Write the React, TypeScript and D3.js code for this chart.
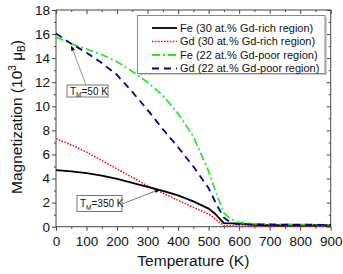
import { useRef, useEffect } from 'react'
import * as d3 from 'd3'

// temperature (K) grid and magnetization values (10^3 muB)
const feRichT = [0, 50, 100, 150, 200, 250, 300, 350, 400, 450, 500, 520, 550, 600, 650, 700, 900]
const feRichM = [4.7, 4.6, 4.45, 4.25, 3.97, 3.65, 3.3, 2.97, 2.6, 2.1, 1.5, 1.1, 0.3, 0.25, 0.15, 0.12, 0.12]
const gdRichT = [0, 50, 100, 150, 200, 250, 300, 350, 400, 450, 500, 550, 600, 900]
const gdRichM = [7.3, 6.8, 6.2, 5.5, 4.8, 4.1, 3.4, 2.8, 2.2, 1.6, 1.05, 0.1, 0.05, 0.05]
const fePoorT = [0, 50, 100, 150, 200, 250, 300, 350, 400, 450, 500, 525, 550, 575, 600, 650, 700, 900]
const fePoorM = [15.75, 15.2, 14.75, 14.3, 13.7, 12.9, 12.0, 10.9, 9.4, 7.5, 4.6, 2.8, 1.15, 0.6, 0.35, 0.25, 0.2, 0.15]
const gdPoorT = [0, 50, 100, 150, 200, 250, 300, 350, 400, 450, 500, 525, 550, 575, 600, 900]
const gdPoorM = [16.05, 15.2, 14.45, 13.6, 12.6, 11.2, 9.7, 8.1, 6.6, 5.0, 3.2, 1.9, 0.75, 0.3, 0.2, 0.15]

const seriesNames = ['Fe (30 at.% Gd-rich region)', 'Gd (30 at.% Gd-rich region)', 'Fe (22 at.% Gd-poor region)', 'Gd (22 at.% Gd-poor region)']
const xTicks = [0, 100, 200, 300, 400, 500, 600, 700, 800, 900]
const yTicks = [0, 2, 4, 6, 8, 10, 12, 14, 16, 18]

export default function App() {
  const svgRef = useRef<SVGSVGElement>(null)

  useEffect(() => {
    const W = 343, H = 274
    const m = { l: 56, r: 12.3, t: 10, b: 47.3 }
    const svg = d3.select(svgRef.current).attr('width', W).attr('height', H)
    svg.selectAll('*').remove()
    const font = 'Liberation Sans, Arial, sans-serif'

    const x = d3.scaleLinear().domain([0, 900]).range([m.l, W - m.r])
    const y = d3.scaleLinear().domain([0, 18]).range([H - m.b, m.t])

    // frame
    svg.append('rect')
      .attr('x', x(0)).attr('y', y(18))
      .attr('width', x(900) - x(0)).attr('height', y(0) - y(18))
      .attr('fill', 'none').attr('stroke', '#444').attr('stroke-width', 1)

    // axes
    const bottom = svg.append('g').attr('transform', `translate(0,${y(0)})`)
      .call(d3.axisBottom(x).tickValues(xTicks).tickSize(4).tickSizeOuter(0))
    const bottomMinor = svg.append('g').attr('transform', `translate(0,${y(0)})`)
      .call(d3.axisBottom(x).tickValues(d3.range(50, 900, 100)).tickSize(2).tickFormat(() => '').tickSizeOuter(0))
    const left = svg.append('g').attr('transform', `translate(${x(0)},0)`)
      .call(d3.axisLeft(y).tickValues(yTicks).tickSize(4).tickSizeOuter(0))
    const leftMinor = svg.append('g').attr('transform', `translate(${x(0)},0)`)
      .call(d3.axisLeft(y).tickValues(d3.range(1, 18, 2)).tickSize(2).tickFormat(() => '').tickSizeOuter(0))
    const top = svg.append('g').attr('transform', `translate(0,${y(18)})`)
      .call(d3.axisBottom(x).tickValues(xTicks).tickSize(4).tickFormat(() => '').tickSizeOuter(0))
    const topMinor = svg.append('g').attr('transform', `translate(0,${y(18)})`)
      .call(d3.axisBottom(x).tickValues(d3.range(50, 900, 100)).tickSize(2).tickFormat(() => '').tickSizeOuter(0))
    const right = svg.append('g').attr('transform', `translate(${x(900)},0)`)
      .call(d3.axisLeft(y).tickValues(yTicks).tickSize(4).tickFormat(() => '').tickSizeOuter(0))
    const rightMinor = svg.append('g').attr('transform', `translate(${x(900)},0)`)
      .call(d3.axisLeft(y).tickValues(d3.range(1, 18, 2)).tickSize(2).tickFormat(() => '').tickSizeOuter(0))
    for (const g of [bottom, bottomMinor, left, leftMinor, top, topMinor, right, rightMinor]) {
      g.select('.domain').remove()
      g.selectAll('line').attr('stroke', '#444')
      g.selectAll('text').attr('fill', '#111').style('font-family', font).style('font-size', '13.5px')
    }
    bottom.selectAll('text').attr('dy', '0.9em')
    left.selectAll('text').attr('x', -6)

    // series
    const line = d3.line<[number, number]>().x(d => x(d[0])).y(d => y(d[1]))
    const series = [
      { t: feRichT, v: feRichM, color: '#000', dash: '', w: 1.8 },
      { t: gdRichT, v: gdRichM, color: '#ff0000', dash: '1.5,1.5', w: 1.5 },
      { t: fePoorT, v: fePoorM, color: '#22ee22', dash: '8,3,2,3', w: 1.8 },
      { t: gdPoorT, v: gdPoorM, color: '#000099', dash: '7,5', w: 1.8 },
    ]
    const drawOrder = [1, 0, 2, 3]
    drawOrder.forEach(i => {
      const s = series[i]
      svg.append('path')
        .datum(s.t.map((t, k) => [t, s.v[k]] as [number, number]))
        .attr('d', line)
        .attr('fill', 'none')
        .attr('stroke', s.color)
        .attr('stroke-width', s.w)
        .attr('stroke-dasharray', s.dash || null)
    })

    // legend
    const lg = svg.append('g')
    lg.append('rect').attr('x', 139).attr('y', 17).attr('width', 188).attr('height', 58).attr('fill', '#ccc')
    lg.append('rect').attr('x', 137.5).attr('y', 15.5).attr('width', 187.5).attr('height', 58)
      .attr('fill', '#fff').attr('stroke', '#888').attr('stroke-width', 1)
    seriesNames.forEach((name, i) => {
      const s = series[i]
      const yy = 28 + i * 13.5
      lg.append('line').attr('x1', 152).attr('x2', 177).attr('y1', yy).attr('y2', yy)
        .attr('stroke', s.color).attr('stroke-width', s.w).attr('stroke-dasharray', s.dash || null)
      lg.append('text').attr('x', 180).attr('y', yy).attr('dy', '0.35em')
        .style('font-family', font).style('font-size', '11px').attr('fill', '#111').text(name)
    })

    // annotations
    const arrow = (x1: number, y1: number, x2: number, y2: number, col: string) => {
      svg.append('line').attr('x1', x1).attr('y1', y1).attr('x2', x2).attr('y2', y2)
        .attr('stroke', col).attr('stroke-width', 0.8)
      const a = Math.atan2(y2 - y1, x2 - x1)
      const L = 5, Wd = 2
      const p = [
        [x2, y2],
        [x2 - L * Math.cos(a) + Wd * Math.sin(a), y2 - L * Math.sin(a) - Wd * Math.cos(a)],
        [x2 - L * Math.cos(a) - Wd * Math.sin(a), y2 - L * Math.sin(a) + Wd * Math.cos(a)],
      ]
      svg.append('path').attr('d', 'M' + p.map(q => q.join(',')).join('L') + 'Z').attr('fill', '#000')
    }
    const label = (bx: number, by: number, bw: number, bh: number, val: string) => {
      svg.append('rect').attr('x', bx).attr('y', by).attr('width', bw).attr('height', bh)
        .attr('fill', '#fff').attr('stroke', '#777').attr('stroke-width', 1)
      const t = svg.append('text').attr('x', bx + 3).attr('y', by + bh / 2 + 3.5)
        .style('font-family', font).style('font-size', '10px').attr('fill', '#111')
      t.append('tspan').text('T')
      t.append('tspan').attr('font-size', '6.5px').attr('dy', 2.5).text('M')
      t.append('tspan').attr('dy', -2.5).text('=' + val)
    }
    arrow(86, 85, x(50), y(15.2) + 2, '#777')
    label(67, 85, 41, 12, '50 K')
    arrow(122, 204, x(340), y(3.1), '#555')
    label(77, 195.5, 45, 16, '350 K')

    // axis titles
    svg.append('text').attr('x', x(450)).attr('y', 266)
      .attr('text-anchor', 'middle').style('font-family', font).style('font-size', '15.5px').attr('fill', '#111')
      .text('Temperature (K)')
    const yl = svg.append('text').attr('transform', 'translate(22,117) rotate(-90)')
      .attr('text-anchor', 'middle').style('font-family', font).style('font-size', '15.5px').attr('fill', '#111')
    yl.append('tspan').text('Magnetization (10')
    yl.append('tspan').attr('font-size', '10px').attr('dy', -6).text('3')
    yl.append('tspan').attr('dy', 6).text(' \u03bc')
    yl.append('tspan').attr('font-size', '10px').attr('dy', 3).text('B')
    yl.append('tspan').attr('dy', -3).text(')')
  }, [])

  return (
    <div style={{ position: 'absolute', left: 0, top: 0 }}>
      <svg ref={svgRef}></svg>
    </div>
  )
}
